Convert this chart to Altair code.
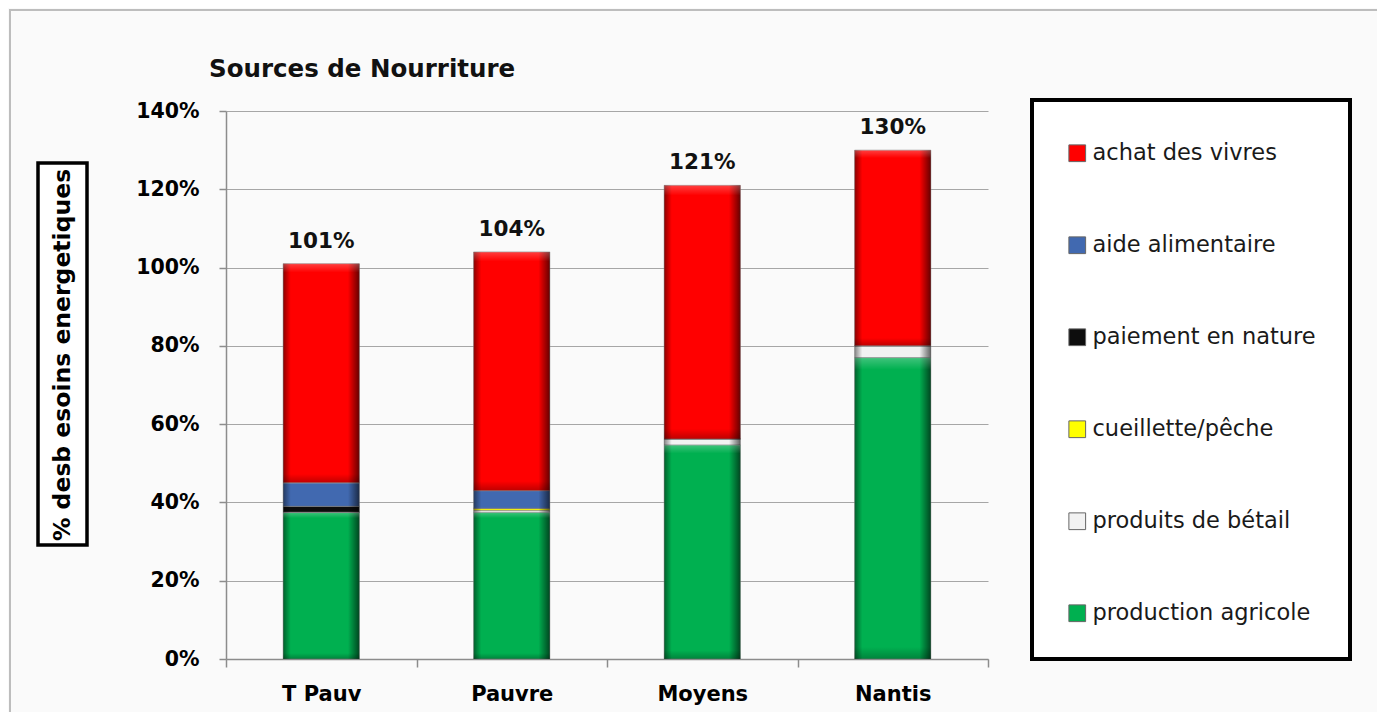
import altair as alt
import pandas as pd

groups = ["T Pauv", "Pauvre", "Moyens", "Nantis"]
sources = ["production agricole", "produits de bétail", "cueillette/pêche",
           "paiement en nature", "aide alimentaire", "achat des vivres"]
production_agricole = [37.5, 37.5, 54.7, 77.0]
produits_betail = [0.0, 0.5, 1.5, 3.0]
cueillette_peche = [0.0, 0.5, 0.0, 0.0]
paiement_nature = [1.5, 0.0, 0.0, 0.0]
aide_alimentaire = [6.0, 4.5, 0.0, 0.0]
achat_vivres = [56.0, 61.0, 64.8, 50.0]
totals = [101, 104, 121, 130]

series = [production_agricole, produits_betail, cueillette_peche,
          paiement_nature, aide_alimentaire, achat_vivres]
colors = ["#00B050", "#F2F2F2", "#FFFF00", "#0D0D0D", "#4169B0", "#FF0000"]

rows = []
for si, (name, vals) in enumerate(zip(sources, series)):
    for g, v in zip(groups, vals):
        rows.append({"groupe": g, "source": name, "valeur": v / 100.0, "ordre": si})
df = pd.DataFrame(rows)
tot_df = pd.DataFrame({"groupe": groups, "total": [t / 100.0 for t in totals],
                       "label": [f"{t}%" for t in totals]})

FONT = "DejaVu Sans"
legend_domain = list(reversed(sources))
legend_range = list(reversed(colors))
BAR_W = alt.RelativeBandSize(0.4)

one = pd.DataFrame({"a": [0]})

frame = alt.Chart(one).mark_rect(fillOpacity=0, stroke="#BDBDBD", strokeWidth=2).encode(
    x=alt.value(-216), x2=alt.value(1159), y=alt.value(-101), y2=alt.value(604))

title = alt.Chart(one).mark_text(text="Sources de Nourriture", font=FONT, fontSize=24.5,
                                 fontWeight="bold", align="left", baseline="middle",
                                 color="#111").encode(x=alt.value(-17), y=alt.value(-41))

ybox = alt.Chart(one).mark_rect(fill="white", stroke="black", strokeWidth=3.5).encode(
    x=alt.value(-188), x2=alt.value(-139), y=alt.value(52), y2=alt.value(434))
ytitle = alt.Chart(one).mark_text(text="% desb esoins energetiques", font=FONT, fontSize=23.5,
                                  fontWeight="bold", angle=270, align="center",
                                  baseline="middle", color="black").encode(
    x=alt.value(-163), y=alt.value(244))

x_enc = alt.X("groupe:N", sort=groups, title=None,
              scale=alt.Scale(paddingInner=0, paddingOuter=0),
              axis=alt.Axis(labelFont=FONT, labelFontSize=21, labelFontWeight="bold",
                            labelColor="black", labelAngle=0, labelPadding=16,
                            ticks=True, tickBand="extent", tickSize=8,
                            tickColor="#8C8C8C", tickWidth=1.5,
                            domainColor="#8C8C8C", domainWidth=1.5))

y_enc = alt.Y("valeur:Q", stack="zero", title=None,
              scale=alt.Scale(domain=[0, 1.4]),
              axis=alt.Axis(format=".0%", values=[0, 0.2, 0.4, 0.6, 0.8, 1.0, 1.2, 1.4],
                            labelFont=FONT, labelFontSize=20.5, labelFontWeight="bold",
                            labelColor="black", tickSize=7, tickColor="#8C8C8C",
                            tickWidth=1.5,
                            domainColor="#8C8C8C", domainWidth=1.5, labelPadding=20,
                            grid=True, gridColor="#A6A6A6", gridWidth=1))

bars = alt.Chart(df).mark_bar(stroke="#8A8A8A", strokeWidth=0.6, width=BAR_W).encode(
    x=x_enc,
    y=y_enc,
    color=alt.Color("source:N",
                    scale=alt.Scale(domain=legend_domain, range=legend_range),
                    legend=alt.Legend(title=" ", titleFontSize=2, titlePadding=6,
                                      orient="none", legendX=806, legendY=-11,
                                      padding=34, rowPadding=69, symbolType="square",
                                      symbolSize=280, symbolStrokeColor="#666",
                                      symbolStrokeWidth=1, labelFont=FONT,
                                      labelFontSize=22.5, labelColor="#1a1a1a",
                                      labelOffset=4, labelLimit=400,
                                      strokeColor="black",
                                      fillColor="white")),
    order=alt.Order("ordre:Q", sort="ascending"),
)

side_shade = alt.LinearGradient(
    gradient="linear", x1=0, x2=1, y1=0, y2=0,
    stops=[alt.GradientStop(offset=0, color="rgba(0,0,0,0.45)"),
           alt.GradientStop(offset=0.1, color="rgba(0,0,0,0)"),
           alt.GradientStop(offset=0.85, color="rgba(0,0,0,0)"),
           alt.GradientStop(offset=1, color="rgba(0,0,0,0.6)")])

shade = alt.Chart(df).mark_bar(fill=side_shade, strokeOpacity=0, width=BAR_W).encode(
    x=alt.X("groupe:N", sort=groups),
    y=alt.Y("valeur:Q", stack="zero"),
    detail="source:N",
    order=alt.Order("ordre:Q", sort="ascending"),
)

vert_shade = alt.LinearGradient(
    gradient="linear", x1=0, x2=0, y1=0, y2=1,
    stops=[alt.GradientStop(offset=0, color="rgba(255,255,255,0.25)"),
           alt.GradientStop(offset=0.04, color="rgba(255,255,255,0)"),
           alt.GradientStop(offset=0.96, color="rgba(0,0,0,0)"),
           alt.GradientStop(offset=1, color="rgba(0,0,0,0.25)")])

vshade = alt.Chart(df).mark_bar(fill=vert_shade, strokeOpacity=0, width=BAR_W).encode(
    x=alt.X("groupe:N", sort=groups),
    y=alt.Y("valeur:Q", stack="zero"),
    detail="source:N",
    order=alt.Order("ordre:Q", sort="ascending"),
)

labels = alt.Chart(tot_df).mark_text(font=FONT, fontSize=21.5, fontWeight="bold",
                                     color="#111", dy=-22).encode(
    x=alt.X("groupe:N", sort=groups),
    y=alt.Y("total:Q"),
    text="label:N")

chart = alt.layer(frame, title, ybox, ytitle, bars, shade, vshade, labels).properties(
    width=762, height=548,
    autosize=alt.AutoSizeParams(type="none"),
    padding={"left": 218, "top": 103, "right": 389, "bottom": 53},
    background="#FAFAFA",
).configure_view(stroke=None).configure_legend(strokeWidth=4)

chart.save("out.html", embed_options={"renderer": "svg", "actions": False})
